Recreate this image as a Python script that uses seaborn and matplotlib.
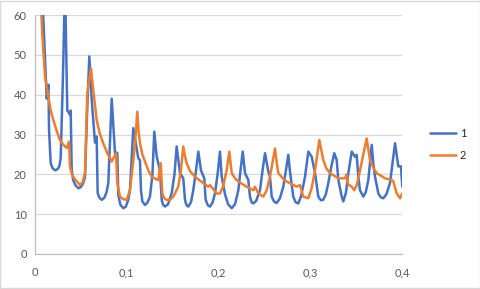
import numpy as np
import pandas as pd
import matplotlib
matplotlib.use("Agg")
import matplotlib.pyplot as plt
import matplotlib.ticker as mticker
import seaborn as sns

series_names = ["1", "2"]

x1 = [0.005, 0.0087, 0.0128, 0.0147, 0.0153, 0.0171, 0.019, 0.0218, 0.0245, 0.0265,
      0.028, 0.0305, 0.0327, 0.0352, 0.0381, 0.0389, 0.040, 0.0417, 0.044, 0.0472,
      0.050, 0.0525, 0.0545, 0.0567, 0.0592, 0.0618, 0.0654, 0.0672, 0.0683, 0.070,
      0.0727, 0.0755, 0.078, 0.0799, 0.0836, 0.0872, 0.0897, 0.0908, 0.093, 0.0962,
      0.099, 0.1015, 0.1035, 0.1071, 0.1126, 0.1144, 0.1155, 0.117, 0.1199, 0.1225,
      0.1253, 0.128, 0.130, 0.1326, 0.1362, 0.1381, 0.1395, 0.1417, 0.145, 0.149,
      0.152, 0.1544, 0.158, 0.1616, 0.1635, 0.165, 0.1671, 0.170, 0.1725, 0.1755,
      0.178, 0.1809, 0.1845, 0.186, 0.1885, 0.1907, 0.1935, 0.1962, 0.199, 0.2016,
      0.2035, 0.2071, 0.2104, 0.2144, 0.218, 0.2216, 0.224, 0.2264, 0.2289, 0.2325,
      0.2343, 0.236, 0.2379, 0.241, 0.2452, 0.248, 0.2507, 0.2543, 0.2561, 0.258,
      0.2605, 0.2634, 0.267, 0.2706, 0.2735, 0.2761, 0.2779, 0.2815, 0.284, 0.287,
      0.290, 0.2943, 0.2979, 0.3016, 0.3052, 0.3088, 0.3115, 0.3142, 0.317, 0.3197,
      0.323, 0.3262, 0.3288, 0.3306, 0.3343, 0.336, 0.339, 0.3415, 0.3452, 0.3488,
      0.3506, 0.3524, 0.3542, 0.3578, 0.3605, 0.3633, 0.367, 0.3687, 0.3706, 0.3742,
      0.377, 0.3796, 0.383, 0.3869, 0.3924, 0.396, 0.3989, 0.4003]
y1 = [75, 61, 39, 42.5, 31, 22.8, 21.6, 21, 21.3, 22,
      24, 45, 68, 36, 35, 36, 21, 18.5, 17.3, 16.5,
      16.8, 17.8, 19.3, 35, 49.6, 38.7, 28, 29.5, 15.3, 14.2,
      13.6, 14.1, 15.5, 17.8, 39, 25.4, 25.4, 14.8, 12.4, 11.5,
      11.9, 13.5, 16, 31.6, 24, 23.6, 16, 13.2, 12.3, 12.9,
      14.4, 20, 30.7, 24.5, 21, 13.6, 12.4, 11.9, 12.5, 15.3,
      20, 27, 20.3, 19, 13.6, 12.3, 11.9, 13, 16, 21,
      25.7, 21, 19, 13.6, 12.2, 11.9, 12.9, 15.3, 20, 25.7,
      19.4, 15, 12.5, 11.5, 12.5, 16, 21, 25.7, 20.3, 18.6,
      14.4, 13, 12.7, 13.3, 16, 21, 25.3, 20.7, 19.4, 14.4,
      13.2, 12.8, 14, 16.9, 21, 24.9, 20.7, 14.4, 13, 12.7,
      14.5, 19.4, 25.7, 24.4, 20.3, 14.4, 13.5, 13.6, 15, 17.8,
      22, 25.3, 23.6, 18.6, 14.4, 13.2, 15.5, 20.3, 25.7, 24.4,
      24.9, 19.4, 16, 14.4, 15.5, 18.6, 27.4, 22.8, 19.4, 15.2,
      14.2, 14, 15, 17.8, 27.8, 22, 22, 16.9]

x2 = [0.005, 0.008, 0.0109, 0.0145, 0.017, 0.0199, 0.0235, 0.0272, 0.031, 0.0346,
      0.036, 0.0371, 0.0381, 0.0395, 0.0417, 0.0445, 0.0472, 0.049, 0.0518, 0.0545,
      0.057, 0.061, 0.0635, 0.0672, 0.0705, 0.0744, 0.079, 0.0836, 0.0883, 0.0897,
      0.0926, 0.096, 0.0999, 0.1035, 0.107, 0.109, 0.1115, 0.1128, 0.1144, 0.117,
      0.1199, 0.1235, 0.1272, 0.131, 0.1344, 0.137, 0.1387, 0.141, 0.1435, 0.1471,
      0.151, 0.1562, 0.159, 0.1616, 0.1635, 0.1653, 0.169, 0.1744, 0.1834, 0.1889,
      0.1907, 0.198, 0.2016, 0.205, 0.2089, 0.2118, 0.2144, 0.218, 0.2216, 0.2307,
      0.2379, 0.2398, 0.2434, 0.2488, 0.2525, 0.2561, 0.2616, 0.2634, 0.2652, 0.270,
      0.2743, 0.2852, 0.2888, 0.2924, 0.2979, 0.3015, 0.3052, 0.3099, 0.3142, 0.3175,
      0.3215, 0.3306, 0.3379, 0.3397, 0.3412, 0.3452, 0.348, 0.351, 0.3542, 0.3615,
      0.3651, 0.369, 0.3724, 0.3815, 0.3888, 0.3906, 0.3942, 0.3978, 0.4003]
y2 = [70, 55, 44.6, 39.5, 36.2, 33.7, 31, 28.6, 27.4, 26.6,
      27.5, 28.2, 22, 20.5, 19.4, 18.5, 17.8, 17.3, 18, 20.3,
      40.4, 46.6, 41.2, 33.7, 30.3, 27.8, 25.2, 23.2, 25.3, 17.8,
      14.4, 13.8, 13.6, 16, 23, 27.8, 35.7, 31, 27.8, 25,
      23.2, 21, 19.4, 18.9, 18.6, 22.8, 15.2, 14, 13.6, 13.6,
      14.5, 16.9, 21, 27, 24.5, 22.8, 20.8, 19.4, 17.8, 16.9,
      17.3, 15.2, 15.2, 17, 21, 25.7, 20.3, 19, 18.2, 16.9,
      16, 16.9, 15.2, 14.4, 16, 19.4, 26.5, 23, 20.3, 19,
      18.2, 16.9, 17.3, 14.4, 14, 16.5, 21, 28.6, 23.6, 21.5,
      20.3, 19, 19, 20, 17.5, 16.9, 16, 17.5, 21, 29,
      23.6, 21.5, 20.3, 19, 18.6, 18.2, 15.2, 14, 15.2]

x_ticks = [0, 0.1, 0.2, 0.3, 0.4]
y_ticks = [0, 10, 20, 30, 40, 50, 60]

df = pd.concat([
    pd.DataFrame({"x": x1, "y": y1, "s": series_names[0]}),
    pd.DataFrame({"x": x2, "y": y2, "s": series_names[1]}),
], ignore_index=True)

sns.set_style("white")
plt.rcParams["font.family"] = ["Lato", "DejaVu Sans"]

fig = plt.figure(figsize=(4.81, 2.89), dpi=100)
ax = fig.add_axes([35 / 481, 1 - 254 / 289, (402 - 35) / 481, (254 - 15) / 289])

palette = {"1": "#4472C4", "2": "#ED7D31"}
sns.lineplot(data=df, x="x", y="y", hue="s", palette=palette, sort=False,
             estimator=None, linewidth=1.8, ax=ax, legend=True)

ax.set_xlim(0, 0.4)
ax.set_ylim(0, 60)
ax.set_xticks(x_ticks)
ax.set_yticks(y_ticks)
ax.xaxis.set_major_formatter(mticker.FuncFormatter(
    lambda v, p: "0" if v == 0 else f"{v:.1f}".replace(".", ",")))
ax.set_xlabel("")
ax.set_ylabel("")
ax.yaxis.grid(True, color="#D9D9D9", linewidth=0.9)
ax.xaxis.grid(False)
ax.set_axisbelow(True)
for side in ["top", "right"]:
    ax.spines[side].set_visible(False)
for side in ["left", "bottom"]:
    ax.spines[side].set_color("#BFBFBF")
    ax.spines[side].set_linewidth(0.9)
ax.tick_params(axis="x", which="major", length=3.5, color="#BFBFBF", width=0.9,
               labelsize=8, labelcolor="#595959", pad=6)
ax.tick_params(axis="y", which="major", length=0, labelsize=8,
               labelcolor="#595959", pad=6)

handles, labels = ax.get_legend_handles_labels()
ax.get_legend().remove()
fig.legend(handles, labels, loc="center left", bbox_to_anchor=(0.895, 0.50),
           frameon=False, fontsize=8, handlelength=2.3, handletextpad=0.35,
           labelspacing=1.0, borderpad=0, borderaxespad=0)

fig.patches.append(plt.Rectangle((0.001, 0.002), 0.997, 0.995, transform=fig.transFigure,
                                 fill=False, edgecolor="#D9D9D9", linewidth=1))

fig.savefig("out.png", dpi=100)
